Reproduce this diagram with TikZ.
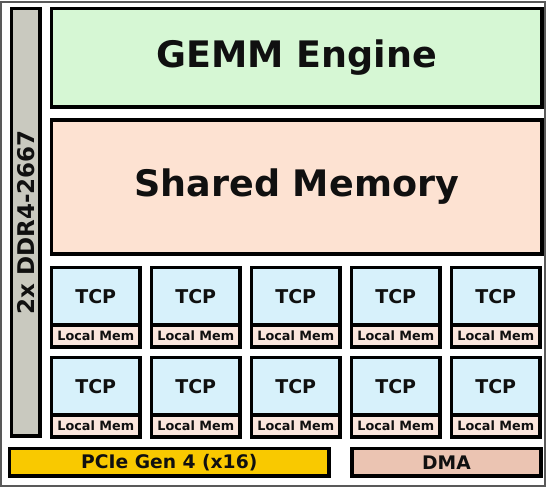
\documentclass[tikz,border=0pt]{standalone}
\usepackage{fontspec}
\setmainfont{DejaVu Sans}
\definecolor{ddrgray}{HTML}{C9C9BF}
\definecolor{gemmgreen}{HTML}{D6F7D4}
\definecolor{shpeach}{HTML}{FDE2D2}
\definecolor{tcpblue}{HTML}{D7F1FB}
\definecolor{lmpeach}{HTML}{FBE6DD}
\definecolor{pcieyellow}{HTML}{F9C900}
\definecolor{dmapeach}{HTML}{EBC4B2}
\definecolor{txtdark}{HTML}{101010}
\tikzset{
  blk/.style={draw=black, line width=3.2pt, inner sep=0pt, text=txtdark, font=\bfseries},
  tcpbox/.style={blk, fill=tcpblue, minimum width=88.5pt, minimum height=57.5pt, font=\bfseries\fontsize{19}{19}\selectfont},
  lmbox/.style={blk, fill=lmpeach, minimum width=88.5pt, minimum height=22pt, font=\bfseries\fontsize{12.8}{12.8}\selectfont},
}
\begin{document}
\begin{tikzpicture}[x=1pt,y=-1pt]
\useasboundingbox (0,0) rectangle (550,490);
\fill[white] (0,0) rectangle (550,490);
\draw[gray!70!black, line width=1.5pt] (1,2) rectangle (545,486);
\node[blk, fill=ddrgray, minimum width=28.5pt, minimum height=427.5pt] (ddr) at (25.75,222.25)
  {\rotatebox{90}{\fontsize{23}{23}\selectfont 2x DDR4-2667}};
\node[blk, fill=gemmgreen, minimum width=490.5pt, minimum height=98.5pt, font=\bfseries\fontsize{36.5}{36.5}\selectfont] (gemm) at (296.75,57.75) {GEMM Engine};
\node[blk, fill=shpeach, minimum width=490.5pt, minimum height=134pt, font=\bfseries\fontsize{36.5}{36.5}\selectfont] (shm) at (296.75,187) {Shared Memory};
\foreach \i in {0,...,4}{
  \node[tcpbox] (tcpa\i) at ({95.75+100*\i},296.25) {TCP};
  \node[lmbox] (lma\i) at ({95.75+100*\i},336) {Local Mem};
  \node[tcpbox] (tcpb\i) at ({95.75+100*\i},386.25) {TCP};
  \node[lmbox] (lmb\i) at ({95.75+100*\i},426) {Local Mem};
}
\node[blk, fill=pcieyellow, minimum width=319.5pt, minimum height=27.5pt, font=\bfseries\fontsize{18.7}{18.7}\selectfont] (pcie) at (169.25,462.25) {PCIe Gen 4 (x16)};
\node[blk, fill=dmapeach, minimum width=189pt, minimum height=27.5pt, font=\bfseries\fontsize{18.7}{18.7}\selectfont] (dma) at (446.5,462.25) {DMA};
\end{tikzpicture}
\end{document}
